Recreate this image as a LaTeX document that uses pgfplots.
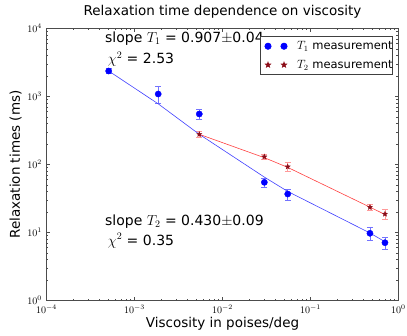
\documentclass[border=0pt]{standalone}
\usepackage{fontspec}
\setmainfont{DejaVu Sans}
\usepackage{pgfplots}
\pgfplotsset{compat=1.18}
\pgfdeclareplotmark{fstar}{%
  \pgfpathmoveto{\pgfpointpolar{90}{\pgfplotmarksize}}%
  \pgfpathlineto{\pgfpointpolar{126}{0.42\pgfplotmarksize}}%
  \pgfpathlineto{\pgfpointpolar{162}{\pgfplotmarksize}}%
  \pgfpathlineto{\pgfpointpolar{198}{0.42\pgfplotmarksize}}%
  \pgfpathlineto{\pgfpointpolar{234}{\pgfplotmarksize}}%
  \pgfpathlineto{\pgfpointpolar{270}{0.42\pgfplotmarksize}}%
  \pgfpathlineto{\pgfpointpolar{306}{\pgfplotmarksize}}%
  \pgfpathlineto{\pgfpointpolar{342}{0.42\pgfplotmarksize}}%
  \pgfpathlineto{\pgfpointpolar{18}{\pgfplotmarksize}}%
  \pgfpathlineto{\pgfpointpolar{54}{0.42\pgfplotmarksize}}%
  \pgfpathclose
  \pgfusepathqfillstroke}
\pgfplotsset{twomarks/.style={legend image code/.code={\path (0pt,0pt) (36pt,0pt);
    \draw[##1] plot coordinates {(7.3pt,0pt) (23.3pt,0pt)};}}}
\definecolor{tonedark}{rgb}{0.55,0.05,0.10}
\definecolor{tlred}{rgb}{1,0.25,0.25}
\definecolor{tpink}{rgb}{1,0.6,0.6}
\definecolor{tlblue}{rgb}{0.45,0.45,1}
\begin{document}
\begin{tikzpicture}
\useasboundingbox (-46.5pt,-34.5pt) rectangle (360.5pt,300.5pt);
\begin{axis}[
  at={(0,0)}, anchor=south west,
  scale only axis, width=352pt, height=272pt,
  xmode=log, ymode=log,
  xmin=1e-4, xmax=1, ymin=1, ymax=1e4,
  xtick={1e-4,1e-3,1e-2,1e-1,1},
  ytick={1,10,100,1000,10000},
  tick label style={font=\fontsize{10}{11}\selectfont},
  yticklabel style={xshift=-1pt},
  xticklabel style={yshift=-1pt},
  major tick length=4pt, minor tick length=2pt,
  axis line style={draw=black!70, line width=0.8pt},
  every tick/.style={draw=black!70, line width=0.5pt},
  title={Relaxation time dependence on viscosity},
  title style={font=\fontsize{13.5}{15}\selectfont, at={(axis description cs:0.5,1.026)}, anchor=base},
  xlabel={Viscosity in poises/deg},
  xlabel style={font=\fontsize{13.5}{15}\selectfont, at={(axis description cs:0.5,-0.101)}, anchor=base},
  ylabel={Relaxation times (ms)},
  ylabel style={font=\fontsize{13.5}{15}\selectfont, at={(axis description cs:-0.0753,0.5)}, anchor=base},
  legend cell align=left,
  legend style={at={(axis description cs:0.9845,0.9725)}, anchor=north east,
    draw=black!75, line width=0.8pt, fill=white,
    inner xsep=0pt, inner ysep=5pt, row sep=9pt,
    nodes={inner sep=0pt, font=\fontsize{11.5}{13}\selectfont},
    font=\fontsize{11.5}{13}\selectfont},
]
% error bars T1
\addplot[forget plot, draw=none, mark=none,
  error bars/.cd, y dir=both, y explicit,
  error bar style={draw=tlblue, line width=0.7pt},
  error mark options={rotate=90, mark size=3pt, draw=tlblue, line width=0.7pt}]
  coordinates {
  (5.09e-4,2371) +- (0,200)
  (1.86e-3,1088) +- (0,300)
  (5.45e-3,553) +- (0,95)
  (0.0299,54.7) +- (0,8)
  (0.0551,36.8) +- (0,7)
  (0.474,9.73) +- (0,2.0)
  (0.702,7.08) +- (0,1.5)
  };
% error bars T2
\addplot[forget plot, draw=none, mark=none,
  error bars/.cd, y dir=both, y explicit,
  error bar style={draw=tpink, line width=0.7pt},
  error mark options={rotate=90, mark size=3pt, draw=tpink, line width=0.7pt}]
  coordinates {
  (5.45e-3,278) +- (0,25)
  (0.0299,130) +- (0,12)
  (0.0551,92.8) +- (0,13)
  (0.474,23.5) +- (0,2.6)
  (0.702,18.7) +- (0,2.9)
  };
% fit lines
\addplot[forget plot, blue!75!white, line width=0.6pt, mark=none]
  coordinates {
  (5.09e-4,2371) (1.86e-3,780) (5.45e-3,278) (0.0299,65.3)
  (0.0551,40.2) (0.474,9.83) (0.702,7.32)
  };
\addplot[forget plot, tlred, line width=0.6pt, mark=none]
  coordinates {
  (5.45e-3,278) (0.0299,126) (0.0551,90.7) (0.474,23.6) (0.702,18.4)
  };
% T1 markers
\addplot[only marks, mark=*, mark size=3.1pt, color=blue, fill=blue, twomarks]
  coordinates {
  (5.09e-4,2371) (1.86e-3,1088) (5.45e-3,553) (0.0299,54.7)
  (0.0551,36.8) (0.474,9.73) (0.702,7.08)
  };
\addlegendentry{$T_1$ measurement\hspace{7pt}}
% T2 markers
\addplot[only marks, mark=fstar, mark size=2.6pt, color=tonedark, fill=tonedark, twomarks]
  coordinates {
  (5.45e-3,278) (0.0299,130) (0.0551,92.8) (0.474,23.5) (0.702,18.7)
  };
\addlegendentry{$T_2$ measurement\hspace{7pt}}
% annotations
\node[anchor=base west, font=\fontsize{14}{16}\selectfont, inner sep=0pt]
  at (axis description cs:0.166,0.950) {slope $T_1$ = 0.907$\pm$0.04};
\node[anchor=base west, font=\fontsize{14}{16}\selectfont, inner sep=0pt]
  at (axis description cs:0.174,0.872) {$\chi^2$ = 2.53};
\node[anchor=base west, font=\fontsize{14}{16}\selectfont, inner sep=0pt]
  at (axis description cs:0.166,0.276) {slope $T_2$ = 0.430$\pm$0.09};
\node[anchor=base west, font=\fontsize{14}{16}\selectfont, inner sep=0pt]
  at (axis description cs:0.174,0.204) {$\chi^2$ = 0.35};
\end{axis}
\end{tikzpicture}
\end{document}
